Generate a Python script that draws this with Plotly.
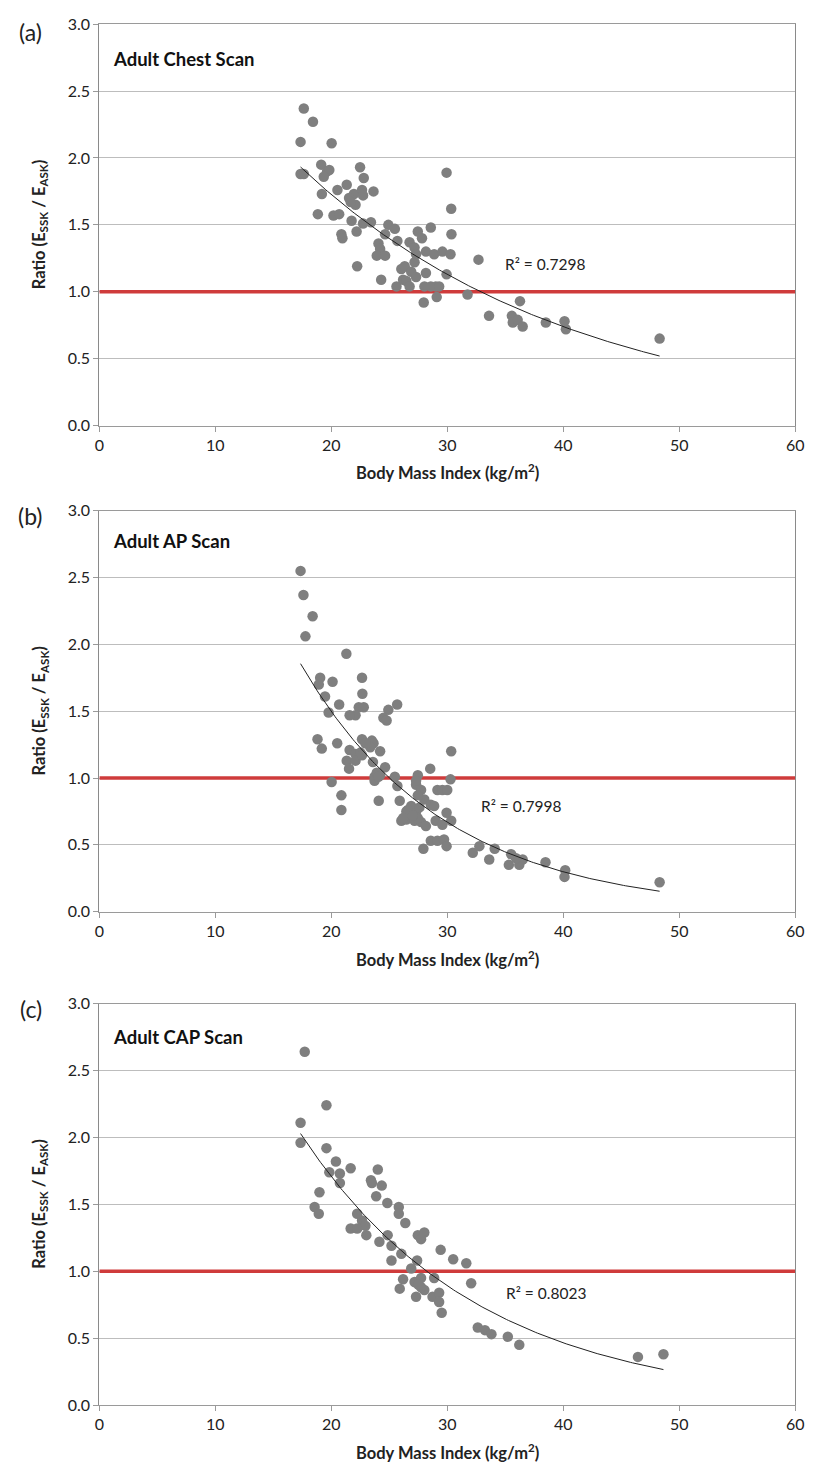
import numpy as np
import plotly.graph_objects as go

# ---------------- data ----------------
panel_labels = ["(a)", "(b)", "(c)"]
panel_titles = ["Adult Chest Scan", "Adult AP Scan", "Adult CAP Scan"]
r2_texts = ["R² = 0.7298", "R² = 0.7998", "R² = 0.8023"]
r2_pos_x = [38.4, 36.4, 38.5]
r2_pos_y = [1.21, 0.79, 0.84]
threshold = 1.0
x_ticks = [0, 10, 20, 30, 40, 50, 60]
y_ticks = [0.0, 0.5, 1.0, 1.5, 2.0, 2.5, 3.0]

chest_bmi = [17.63, 18.42, 17.35, 20.03, 17.35, 17.63, 19.13, 19.64, 19.83, 19.35,
             22.48, 22.80, 20.53, 21.33, 19.19, 21.95, 21.53, 22.65, 22.74, 23.64,
             22.09, 21.67, 18.84, 20.19, 20.68, 21.75, 22.74, 23.42, 22.18, 20.87,
             20.96, 24.92, 25.48, 24.64, 25.70, 27.46, 27.82, 28.58, 26.75, 24.07,
             24.21, 23.92, 24.64, 27.18, 27.31, 28.16, 28.87, 29.58, 30.28, 30.36,
             29.94, 30.34, 32.69, 22.23, 26.04, 26.33, 27.18, 26.89, 27.31, 28.16,
             29.94, 24.30, 26.19, 26.47, 25.62, 26.75, 28.03, 28.58, 29.01, 29.30,
             29.09, 27.97, 31.75, 33.60, 35.57, 35.65, 36.07, 36.50, 36.27, 38.50,
             40.11, 40.23, 48.31]
chest_ratio = [2.37, 2.27, 2.12, 2.11, 1.88, 1.88, 1.95, 1.90, 1.91, 1.86,
               1.93, 1.85, 1.76, 1.80, 1.73, 1.73, 1.70, 1.76, 1.72, 1.75,
               1.65, 1.67, 1.58, 1.57, 1.58, 1.53, 1.51, 1.52, 1.45, 1.43,
               1.40, 1.50, 1.47, 1.43, 1.38, 1.45, 1.40, 1.48, 1.37, 1.36,
               1.32, 1.27, 1.27, 1.33, 1.28, 1.30, 1.28, 1.30, 1.28, 1.43,
               1.89, 1.62, 1.24, 1.19, 1.17, 1.19, 1.22, 1.15, 1.11, 1.14,
               1.13, 1.09, 1.09, 1.08, 1.04, 1.04, 1.04, 1.04, 1.04, 1.04,
               0.96, 0.92, 0.98, 0.82, 0.82, 0.77, 0.79, 0.74, 0.93, 0.77,
               0.78, 0.72, 0.65]

ap_bmi = [17.35, 17.60, 18.39, 17.77, 21.30, 19.04, 18.92, 20.11, 22.65, 22.68,
          19.46, 20.68, 19.77, 22.37, 22.80, 22.09, 21.58, 25.68, 24.92, 24.49,
          24.77, 18.81, 19.18, 20.51, 22.65, 23.50, 23.64, 23.36, 22.94, 24.21,
          21.58, 22.09, 22.51, 21.33, 21.53, 22.09, 23.59, 24.64, 30.34, 28.53,
          23.73, 24.21, 23.92, 25.48, 27.46, 30.28, 20.03, 25.70, 27.31, 27.74,
          29.15, 29.58, 30.00, 20.87, 20.87, 24.09, 25.90, 28.02, 28.58, 28.87,
          26.89, 26.47, 27.31, 26.89, 26.04, 26.47, 27.18, 27.74, 28.16, 27.46,
          29.94, 29.00, 29.58, 30.34, 28.58, 29.15, 29.72, 29.94, 27.94, 32.20,
          32.77, 33.62, 34.09, 35.51, 35.31, 36.21, 36.50, 35.93, 38.47, 40.17,
          40.11, 48.31, 23.73, 24.07, 27.31, 27.46, 26.60, 27.60, 26.19, 27.03,
          22.65]
ap_ratio = [2.55, 2.37, 2.21, 2.06, 1.93, 1.75, 1.70, 1.72, 1.75, 1.63,
            1.61, 1.55, 1.49, 1.53, 1.53, 1.47, 1.47, 1.55, 1.51, 1.45,
            1.43, 1.29, 1.22, 1.26, 1.29, 1.28, 1.26, 1.23, 1.26, 1.20,
            1.21, 1.18, 1.19, 1.13, 1.07, 1.13, 1.12, 1.08, 1.20, 1.07,
            1.01, 1.02, 1.04, 1.01, 1.02, 0.99, 0.97, 0.94, 0.95, 0.91,
            0.91, 0.91, 0.91, 0.87, 0.76, 0.83, 0.83, 0.84, 0.80, 0.79,
            0.79, 0.75, 0.75, 0.71, 0.68, 0.69, 0.68, 0.67, 0.64, 0.70,
            0.74, 0.68, 0.65, 0.68, 0.53, 0.53, 0.54, 0.49, 0.47, 0.44,
            0.49, 0.39, 0.47, 0.43, 0.35, 0.35, 0.39, 0.40, 0.37, 0.31,
            0.26, 0.22, 0.98, 1.01, 0.98, 0.87, 0.76, 0.78, 0.70, 0.72,
            1.17]

cap_bmi = [17.71, 19.58, 17.35, 17.35, 19.58, 20.40, 19.83, 20.74, 20.74, 21.67,
           24.01, 23.42, 23.50, 24.35, 18.98, 23.87, 24.83, 25.82, 25.82, 18.56,
           18.92, 26.38, 22.23, 22.65, 22.94, 21.67, 22.23, 23.02, 24.86, 24.15,
           27.46, 28.02, 27.74, 25.19, 26.04, 29.43, 30.51, 31.64, 25.19, 27.40,
           26.89, 32.06, 26.19, 27.18, 27.74, 25.90, 28.02, 28.87, 27.31, 28.73,
           29.30, 29.30, 29.52, 32.63, 33.25, 33.81, 35.22, 36.21, 46.44, 48.64,
           27.74, 27.50]
cap_ratio = [2.64, 2.24, 2.11, 1.96, 1.92, 1.82, 1.74, 1.73, 1.66, 1.77,
             1.76, 1.68, 1.66, 1.64, 1.59, 1.56, 1.51, 1.48, 1.43, 1.48,
             1.43, 1.36, 1.43, 1.38, 1.34, 1.32, 1.32, 1.27, 1.27, 1.22,
             1.27, 1.29, 1.24, 1.19, 1.13, 1.16, 1.09, 1.06, 1.08, 1.08,
             1.02, 0.91, 0.94, 0.92, 0.95, 0.87, 0.86, 0.95, 0.81, 0.81,
             0.84, 0.77, 0.69, 0.58, 0.56, 0.53, 0.51, 0.45, 0.36, 0.38,
             0.88, 0.90]

panels_x = [chest_bmi, ap_bmi, cap_bmi]
panels_y = [chest_ratio, ap_ratio, cap_ratio]

# ---------------- layout geometry ----------------
W, H = 815, 1474
x_left_px, x_right_px = 96, 804
panel_top_px = [14.3, 507.3, 1006.6]
panel_bot_px = [421.0, 913.4, 1413.3]

GRAY = "#7f7f7f"
RED = "#cf3b3b"
FONT = "Lato, 'Open Sans', sans-serif"

fig = go.Figure()
annotations = []

for i in range(3):
    n = "" if i == 0 else str(i + 1)
    xa, ya = "x" + n, "y" + n
    xs = np.array(panels_x[i], dtype=float)
    ys = np.array(panels_y[i], dtype=float)

    # threshold line
    fig.add_trace(go.Scatter(x=[x_ticks[0], x_ticks[-1]], y=[threshold, threshold],
                             mode="lines", line=dict(color=RED, width=3.5),
                             xaxis=xa, yaxis=ya, hoverinfo="skip", showlegend=False))
    # scatter
    fig.add_trace(go.Scatter(x=xs, y=ys, mode="markers",
                             marker=dict(color=GRAY, size=10.5),
                             xaxis=xa, yaxis=ya, showlegend=False))
    # exponential trendline fitted to the data
    b, ln_a = np.polyfit(xs, np.log(ys), 1)
    tx = np.linspace(xs.min(), xs.max(), 200)
    ty = np.exp(ln_a) * np.exp(b * tx)
    fig.add_trace(go.Scatter(x=tx, y=ty, mode="lines",
                             line=dict(color="#222222", width=1),
                             xaxis=xa, yaxis=ya, hoverinfo="skip", showlegend=False))

    y0 = 1 - panel_bot_px[i] / H
    y1 = 1 - panel_top_px[i] / H
    fig.update_layout(**{
        "xaxis" + n: dict(domain=[x_left_px / W, x_right_px / W], range=[0, 60],
                          tickvals=x_ticks, ticks="outside", ticklen=5, tickcolor="#9a9a9a",
                          showline=True, linecolor="#9a9a9a", linewidth=1, mirror=True,
                          showgrid=False, zeroline=False, anchor=ya,
                          tickfont=dict(family=FONT, size=16, color="#222")),
        "yaxis" + n: dict(domain=[y0, y1], range=[0, 3], tickvals=y_ticks,
                          tickformat=".1f", ticks="outside", ticklen=5, tickcolor="#9a9a9a",
                          showline=True, linecolor="#8a8a8a", linewidth=1, mirror=True,
                          showgrid=True, gridcolor="#bdbdbd", gridwidth=1,
                          zeroline=False, anchor=xa,
                          tickfont=dict(family=FONT, size=16, color="#222")),
    })

    # panel letter
    annotations.append(dict(text=panel_labels[i], xref="paper", yref="paper",
                            x=26 / W, y=1 - (panel_top_px[i] + (8 if i == 0 else 5)) / H,
                            xanchor="center", yanchor="middle", showarrow=False,
                            font=dict(family=FONT, size=23, color="#222")))
    # panel title
    annotations.append(dict(text="<b>" + panel_titles[i] + "</b>", xref=xa, yref=ya,
                            x=1.0, y=[2.74, 2.77, 2.75][i], xanchor="left", yanchor="middle",
                            showarrow=False, font=dict(family=FONT, size=18.5, color="#111")))
    # R2 label
    annotations.append(dict(text=r2_texts[i], xref=xa, yref=ya,
                            x=r2_pos_x[i], y=r2_pos_y[i], xanchor="center", yanchor="middle",
                            showarrow=False, font=dict(family=FONT, size=15.5, color="#222")))
    # x title
    annotations.append(dict(text="<b>Body Mass Index (kg/m<sup>2</sup>)</b>", xref="paper",
                            yref="paper", x=(x_left_px + x_right_px) / 2 / W,
                            y=1 - (panel_bot_px[i] + 47.5) / H, xanchor="center",
                            yanchor="middle", showarrow=False,
                            font=dict(family=FONT, size=16.5, color="#222")))
    # y title
    annotations.append(dict(text="<b>Ratio (E<sub>SSK</sub> / E<sub>ASK</sub>)</b>",
                            xref="paper", yref="paper", x=35 / W,
                            y=1 - (panel_top_px[i] + panel_bot_px[i]) / 2 / H,
                            xanchor="center", yanchor="middle", textangle=-90,
                            showarrow=False, font=dict(family=FONT, size=16.5, color="#222")))

fig.update_layout(width=W, height=H, margin=dict(l=0, r=0, t=0, b=0),
                  paper_bgcolor="white", plot_bgcolor="white",
                  annotations=annotations, showlegend=False,
                  font=dict(family=FONT))

fig.write_html("out.html", config={"displayModeBar": False},
               post_script="document.body.style.margin='0';document.body.style.overflow='hidden';")
